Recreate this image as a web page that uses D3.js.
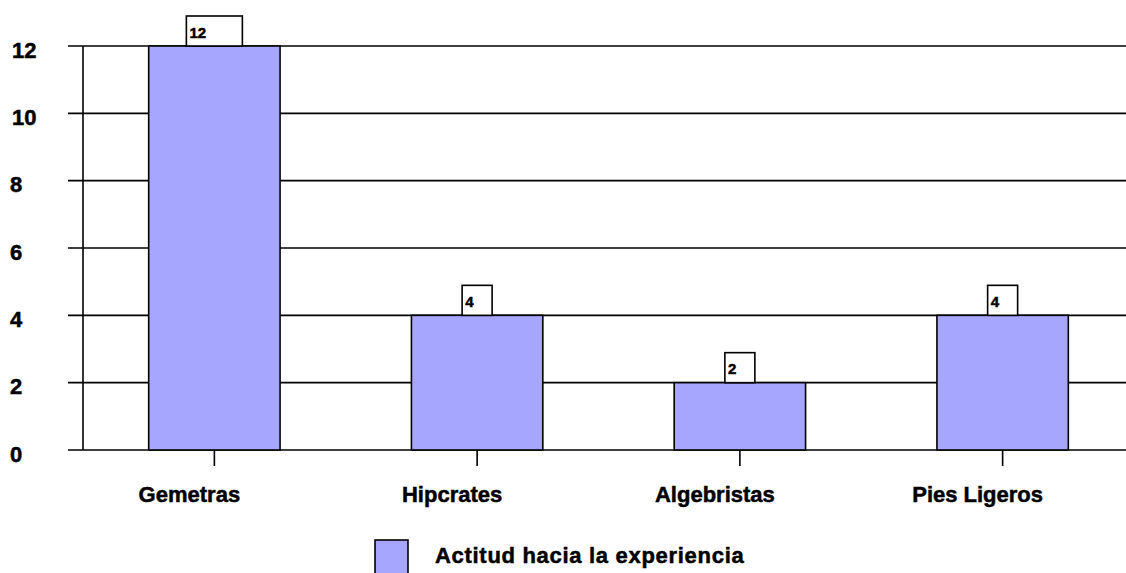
<!DOCTYPE html>
<html>
<head>
<meta charset="utf-8">
<script src="https://cdn.jsdelivr.net/npm/d3@7"></script>
<style>
  html, body { margin: 0; padding: 0; background: #fff; }
  svg { display: block; font-family: "Liberation Sans", Arial, sans-serif; font-weight: bold; }
  svg text { stroke: #000; stroke-width: 0.5px; }
</style>
</head>
<body>
<svg id="chart" width="1126" height="573"></svg>
<script>
// Chart data
const categories = ["Gemetras", "Hipcrates", "Algebristas", "Pies Ligeros"];
const values = [12, 4, 2, 4];
const yTicks = [0, 2, 4, 6, 8, 10, 12];
const seriesName = "Actitud hacia la experiencia";

const barFill = "#a6a6ff";
const svg = d3.select("#chart");

const plot = { left: 83, right: 1134, top: 46, bottom: 450 };

const x = d3.scaleBand()
  .domain(categories)
  .range([plot.left, plot.right])
  .paddingInner(0.5)
  .paddingOuter(0.25);

const y = d3.scaleLinear()
  .domain([0, 12])
  .range([plot.bottom, plot.top]);

// Horizontal gridlines with left tick stubs
svg.append("g")
  .selectAll("line")
  .data(yTicks)
  .join("line")
  .attr("x1", 68)
  .attr("x2", 1126)
  .attr("y1", d => y(d))
  .attr("y2", d => y(d))
  .attr("stroke", "#000")
  .attr("stroke-width", 1.6);

// Y tick labels
svg.append("g")
  .selectAll("text")
  .data(yTicks)
  .join("text")
  .attr("x", d => d >= 10 ? 12 : 10)
  .attr("y", d => y(d) + 11.5)
  .attr("font-size", 22)
  .text(d => d);

// Vertical axis line
svg.append("line")
  .attr("x1", plot.left).attr("x2", plot.left)
  .attr("y1", y(12)).attr("y2", y(0))
  .attr("stroke", "#000").attr("stroke-width", 1.6);

// Bars
svg.append("g")
  .selectAll("rect")
  .data(categories)
  .join("rect")
  .attr("x", d => x(d))
  .attr("y", (d, i) => y(values[i]))
  .attr("width", x.bandwidth())
  .attr("height", (d, i) => y(0) - y(values[i]))
  .attr("fill", barFill)
  .attr("stroke", "#000")
  .attr("stroke-width", 1.6);

// X tick marks
svg.append("g")
  .selectAll("line")
  .data(categories)
  .join("line")
  .attr("x1", d => x(d) + x.bandwidth() / 2)
  .attr("x2", d => x(d) + x.bandwidth() / 2)
  .attr("y1", y(0))
  .attr("y2", y(0) + 16)
  .attr("stroke", "#000")
  .attr("stroke-width", 1.6);

// Category labels
svg.append("g")
  .selectAll("text")
  .data(categories)
  .join("text")
  .attr("x", d => x(d) + x.bandwidth() / 2 - 25)
  .attr("y", 502)
  .attr("text-anchor", "middle")
  .attr("font-size", 22)
  .text(d => d);

// Value label boxes above each bar
const labels = svg.append("g")
  .selectAll("g")
  .data(categories)
  .join("g")
  .attr("transform", (d, i) => {
    const w = 26 * String(values[i]).length + 4;
    return `translate(${x(d) + x.bandwidth() / 2 - w / 2},${y(values[i]) - 30})`;
  });

labels.append("rect")
  .attr("width", (d, i) => 26 * String(values[i]).length + 4)
  .attr("height", 30)
  .attr("fill", "#fff")
  .attr("stroke", "#000")
  .attr("stroke-width", 1.6);

labels.append("text")
  .attr("x", 3)
  .attr("y", 21.5)
  .attr("font-size", 15)
  .text((d, i) => values[i]);

// Legend
const legend = svg.append("g");
legend.append("rect")
  .attr("x", 375).attr("y", 540)
  .attr("width", 33).attr("height", 34)
  .attr("fill", barFill)
  .attr("stroke", "#000")
  .attr("stroke-width", 1.6);
legend.append("text")
  .attr("x", 435).attr("y", 563)
  .attr("font-size", 22)
  .attr("letter-spacing", 0.7)
  .text(seriesName);
</script>
</body>
</html>
